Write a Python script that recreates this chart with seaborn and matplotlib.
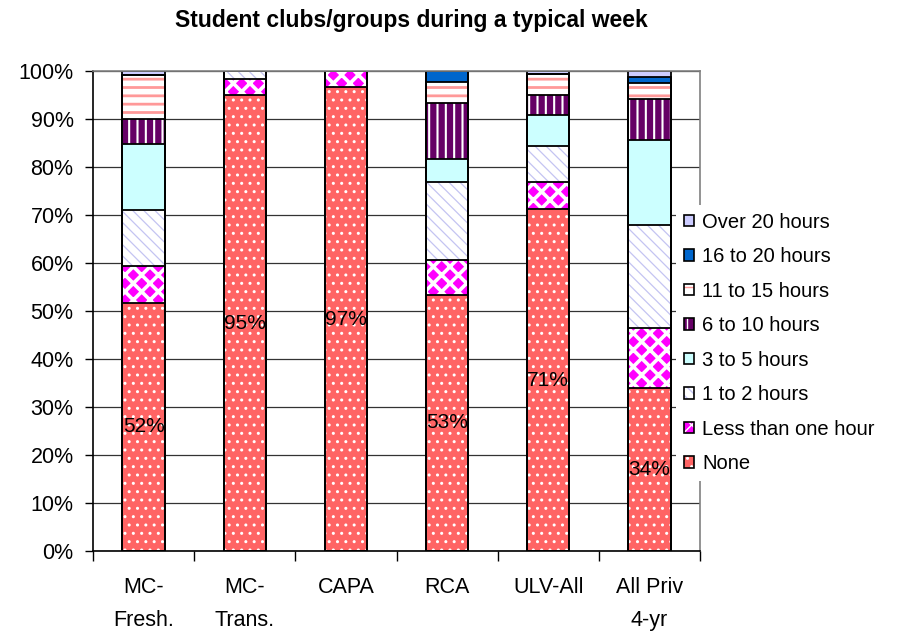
import matplotlib
matplotlib.use('Agg')
import matplotlib.pyplot as plt
import seaborn as sns
import numpy as np
from matplotlib.patches import Patch
from matplotlib.legend_handler import HandlerTuple
from matplotlib.ticker import PercentFormatter, FixedLocator

# data (percent of students)
categories = ["MC-\nFresh.", "MC-\nTrans.", "CAPA", "RCA", "ULV-All", "All Priv\n4-yr"]
none_ = [51.7, 94.9, 96.6, 53.4, 71.2, 34.0]
less_one = [7.7, 3.4, 3.4, 7.2, 5.6, 12.4]
h1_2 = [11.6, 1.7, 0.0, 16.2, 7.6, 21.5]
h3_5 = [13.7, 0.0, 0.0, 4.8, 6.4, 17.7]
h6_10 = [5.4, 0.0, 0.0, 11.7, 4.2, 8.6]
h11_15 = [9.1, 0.0, 0.0, 4.4, 4.4, 3.2]
h16_20 = [0.0, 0.0, 0.0, 2.3, 0.0, 1.4]
over20 = [0.8, 0.0, 0.0, 0.0, 0.6, 1.2]

series_names = ["None", "Less than one hour", "1 to 2 hours", "3 to 5 hours",
                "6 to 10 hours", "11 to 15 hours", "16 to 20 hours", "Over 20 hours"]
series_vals = [none_, less_one, h1_2, h3_5, h6_10, h11_15, h16_20, over20]

# (facecolor, hatch, hatch colour, hatch linewidth)
styles = [
    ("#FF6464", "..", "white", 1.0),
    ("#FF00FF", "xx", "white", 2.6),
    ("white", "\\\\\\", "#C4C4F2", 0.9),
    ("#CCFFFF", "", "#CCFFFF", 1.0),
    ("#660066", "||", "white", 1.5),
    ("white", "--", "#FF9999", 2.0),
    ("#0066CC", "", "#0066CC", 1.0),
    ("#CCCCFF", "", "#CCCCFF", 1.0),
]

sns.set_style("white")
plt.rcParams['font.family'] = ['Liberation Sans', 'DejaVu Sans']
plt.rcParams['text.color'] = 'black'
plt.rcParams['xtick.color'] = 'black'
plt.rcParams['ytick.color'] = 'black'
plt.rcParams['xtick.labelcolor'] = 'black'
plt.rcParams['ytick.labelcolor'] = 'black'

fig = plt.figure(figsize=(8.97, 6.33), dpi=100)
ax = fig.add_axes([93 / 897, 1 - 551 / 633, (700 - 93) / 897, (551 - 71) / 633])

cum = np.cumsum(np.array(series_vals), axis=0)


def style_bars(patches, fc, hatch, hc, hlw, lw=0):
    for p in patches:
        p.set_facecolor(fc)
        p.set_edgecolor(hc)
        p.set_linewidth(lw)
        if hatch:
            p.set_hatch(hatch)
            if hasattr(p, "set_hatch_linewidth"):
                p.set_hatch_linewidth(hlw)


# fills, drawn from the top layer down so each lower layer covers the one above
for k in range(len(series_vals) - 1, -1, -1):
    fc, hatch, hc, hlw = styles[k]
    n0 = len(ax.patches)
    with plt.rc_context({"hatch.linewidth": hlw}):
        sns.barplot(x=categories, y=cum[k], order=categories, ax=ax, color=fc,
                    saturation=1, width=0.42, errorbar=None, linewidth=0)
        style_bars(ax.patches[n0:], fc, hatch, hc, hlw)

# black outlines of every segment
for k in range(len(series_vals) - 1, -1, -1):
    n0 = len(ax.patches)
    sns.barplot(x=categories, y=cum[k], order=categories, ax=ax, fill=False,
                width=0.42, errorbar=None, linewidth=1.3, edgecolor="black")
    for p in ax.patches[n0:]:
        p.set_edgecolor("black")
        p.set_facecolor("none")
        p.set_linewidth(1.3)

# value labels on the "None" segment
for i, v in enumerate(none_):
    ax.text(i, v / 2, f"{round(v)}%", ha="center", va="center", fontsize=15, color="black")

ax.set_ylim(0, 100)
ax.set_xlim(-0.5, len(categories) - 0.5)
ax.yaxis.set_major_locator(FixedLocator(np.arange(0, 101, 10)))
ax.yaxis.set_major_formatter(PercentFormatter(100, decimals=0))
ax.yaxis.grid(True, color="#333333", linewidth=0.9)
ax.set_axisbelow(True)
ax.set_xlabel("")
ax.set_ylabel("")

ax.tick_params(axis="y", which="major", direction="out", length=6, width=1,
               color="black", pad=8, labelsize=15.5, left=True)
ax.tick_params(axis="x", which="major", length=0, pad=19, labelsize=15.5)
ax.xaxis.set_minor_locator(FixedLocator(np.arange(-0.5, len(categories), 1.0)))
ax.tick_params(axis="x", which="minor", direction="out", length=7, width=1,
               color="black", bottom=True)
for lbl in ax.get_xticklabels():
    lbl.set_linespacing(1.72)

for side in ["left", "bottom"]:
    ax.spines[side].set_color("black")
    ax.spines[side].set_linewidth(1.2)
for side in ["top", "right"]:
    ax.spines[side].set_color("#808080")
    ax.spines[side].set_linewidth(1.2)

# legend, top entry first
handles = []
for k in range(len(series_vals) - 1, -1, -1):
    fc, hatch, hc, hlw = styles[k]
    fill = Patch(facecolor=fc, edgecolor=hc, hatch=hatch if hatch else None, linewidth=0)
    if hatch and hasattr(fill, "set_hatch_linewidth"):
        fill.set_hatch_linewidth(min(hlw, 1.5))
    outline = Patch(facecolor="none", edgecolor="black", linewidth=1.2)
    handles.append((fill, outline))
labels = series_names[::-1]

leg = fig.legend(handles, labels, loc="center left",
                 bbox_to_anchor=(676 / 897, 1 - 343 / 633),
                 handler_map={tuple: HandlerTuple(ndivide=1, pad=0)},
                 fontsize=14.5, frameon=True, fancybox=False, framealpha=1,
                 facecolor="white", edgecolor="none", borderpad=0.4,
                 borderaxespad=0, handlelength=0.5, handleheight=0.5,
                 handletextpad=0.4, labelspacing=0.77)

fig.text(411 / 897, 1 - 20 / 633, "Student clubs/groups during a typical week",
         ha="center", va="center", fontsize=16.5, fontweight="bold", color="black")

fig.savefig("out.png", dpi=100)
plt.close(fig)
